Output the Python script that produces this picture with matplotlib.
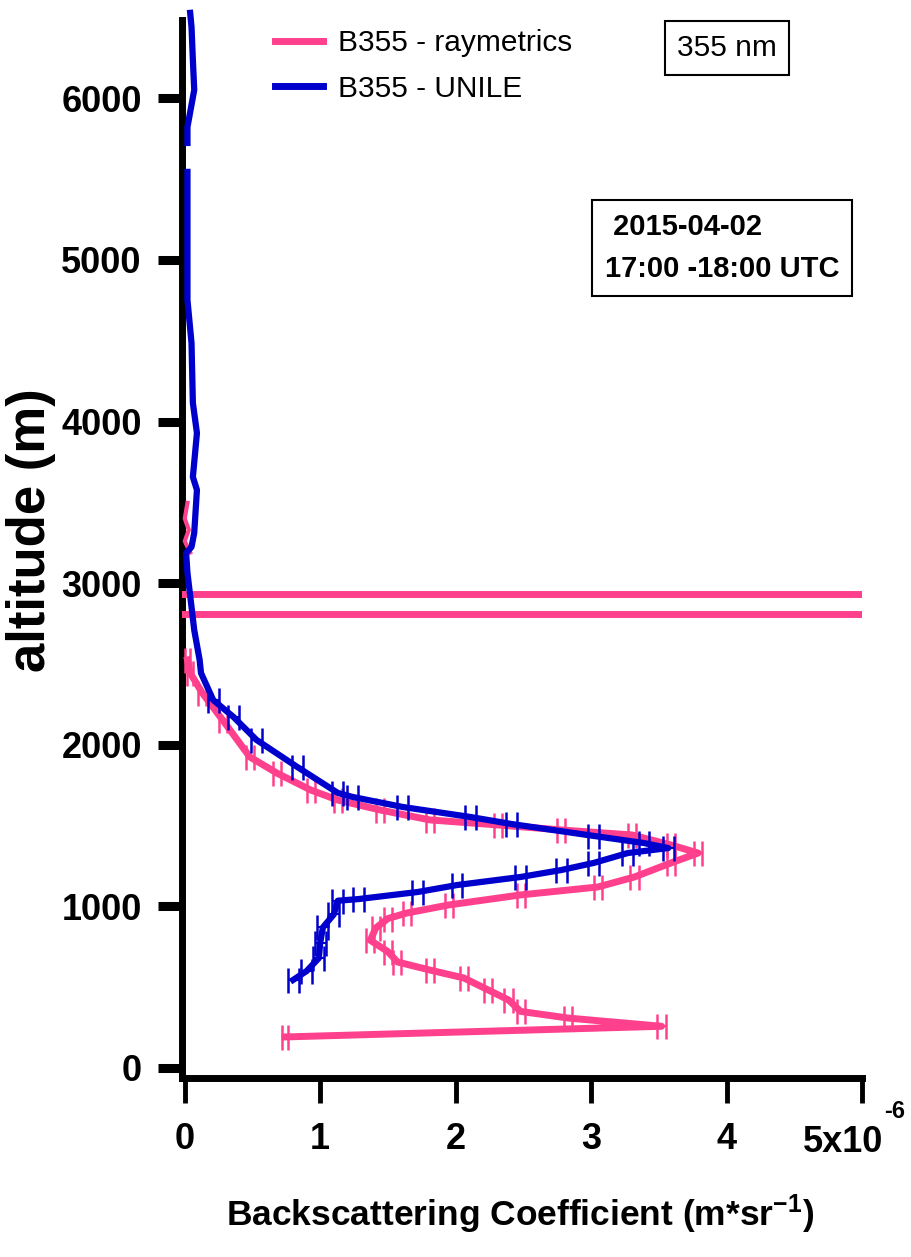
import numpy as np
import matplotlib
matplotlib.use("Agg")
import matplotlib.pyplot as plt
from matplotlib import font_manager

# narrow font if available, otherwise plain Liberation Sans
names = {f.name for f in font_manager.fontManager.ttflist}
FONT = "Liberation Sans Narrow" if "Liberation Sans Narrow" in names else "Liberation Sans"

plt.rcParams['font.family'] = [FONT, 'DejaVu Sans']
plt.rcParams['mathtext.fontset'] = 'custom'
plt.rcParams['mathtext.rm'] = FONT + ':bold'
plt.rcParams['mathtext.it'] = FONT + ':bold'
plt.rcParams['mathtext.bf'] = FONT + ':bold'

PINK = '#FF408C'
BLUE = '#0000CC'

# raymetrics profile (backscatter in 1e-6 m-1 sr-1, altitude in m)
ray_x = [0.74, 3.52, 2.83, 2.48, 2.39, 2.24, 2.06, 1.81, 1.57, 1.50, 1.37, 1.41,
         1.50, 1.64, 1.95, 2.48, 3.05, 3.32, 3.59, 3.79, 3.59, 3.30, 2.78, 2.31,
         1.81, 1.44, 1.13, 0.93, 0.68, 0.48, 0.28, 0.13, 0.04, 0.02]
ray_alt = [192, 258, 309, 350, 421, 483, 557, 606, 656, 720, 790, 866,
           925, 959, 1009, 1071, 1120, 1182, 1269, 1330, 1380, 1442, 1473, 1504,
           1535, 1597, 1658, 1720, 1825, 1925, 2153, 2320, 2444, 2525]
ray_err = [0.02, 0.03, 0.03, 0.03, 0.03, 0.03, 0.03, 0.03, 0.03, 0.03, 0.03, 0.03,
           0.03, 0.03, 0.03, 0.03, 0.03, 0.03, 0.03, 0.03, 0.03, 0.03, 0.03, 0.03,
           0.03, 0.03, 0.03, 0.03, 0.03, 0.03, 0.03, 0.03, 0.02, 0.02]

# raymetrics points above the gap
ray_top_x = [0.04, 0.00, 0.03, 0.00, 0.02]
ray_top_alt = [3190, 3260, 3330, 3400, 3497]

# raymetrics points with very large uncertainty
ray_bad_x = [0.0, 0.0]
ray_bad_alt = [2809, 2933]
ray_bad_err = [6.0, 6.0]

# UNILE profile
uni_x = [0.80, 0.90, 0.99, 1.00, 1.02, 1.10, 1.13, 1.28, 1.72, 2.01, 2.48, 2.78,
         3.02, 3.27, 3.57, 3.39, 3.02, 2.41, 2.11, 1.61, 1.24, 1.13, 0.83, 0.53,
         0.36, 0.21, 0.12, 0.11, 0.07, 0.05, 0.02, 0.01, 0.05, 0.07, 0.09, 0.06,
         0.09, 0.06, 0.05, 0.02, 0.02, 0.02, np.nan, 0.02, 0.02, 0.07, 0.06, 0.05, 0.04]
uni_alt = [545, 600, 680, 775, 870, 950, 1035, 1045, 1089, 1132, 1182, 1225,
           1269, 1330, 1361, 1392, 1436, 1510, 1553, 1615, 1677, 1702, 1863, 2030,
           2172, 2277, 2444, 2525, 2710, 2853, 3063, 3187, 3224, 3311, 3577, 3657,
           3929, 4115, 4486, 4752, 5043, 5545, 5630, 5724, 5823, 6052, 6238, 6442, 6529]
uni_err = 0.04

x_ticks = [0, 1, 2, 3, 4, 5]
x_ticklabels = ['0', '1', '2', '3', '4', '']
y_ticks = [0, 1000, 2000, 3000, 4000, 5000, 6000]

fig = plt.figure(figsize=(9.12, 12.57), dpi=100)
ax = fig.add_axes([0.1996, 0.1424, 0.7456, 0.8417])

ax.plot(ray_x, ray_alt, color=PINK, lw=5, label='B355 - raymetrics', zorder=3)
ax.plot(ray_top_x, ray_top_alt, color=PINK, lw=3, zorder=3)
ax.errorbar(ray_x, ray_alt, xerr=ray_err, fmt='none', ecolor=PINK,
            elinewidth=1.5, capsize=9, capthick=1.8, zorder=3)
ax.errorbar(ray_bad_x, ray_bad_alt, xerr=ray_bad_err, fmt='none', ecolor=PINK,
            elinewidth=5, capsize=0, zorder=3)

ax.plot(uni_x, uni_alt, color=BLUE, lw=4.5, label='B355 - UNILE', zorder=4,
        clip_on=False)
ux = np.array(uni_x)
ua = np.array(uni_alt)
low = ua < 2300
ax.errorbar(ux[low], ua[low], xerr=uni_err, fmt='none', ecolor=BLUE,
            elinewidth=1.5, capsize=9, capthick=1.8, zorder=4)

ax.set_xlim(-0.02, 5)
ax.set_ylim(-62, 6485)

ax.set_xticks(x_ticks)
ax.set_xticklabels(x_ticklabels)
ax.set_yticks(y_ticks)

for s in ['top', 'right']:
    ax.spines[s].set_visible(False)
for s in ['left', 'bottom']:
    ax.spines[s].set_linewidth(5)

ax.tick_params(axis='y', length=17, width=6.5, pad=12, labelsize=26)
ax.tick_params(axis='x', length=18, width=3.5, pad=14, labelsize=26)
for lab in ax.get_xticklabels() + ax.get_yticklabels():
    lab.set_fontweight('bold')

# last x label carries the 1e-6 multiplier, written Igor-style
fig.text(843 / 912, 1 - 1143 / 1257, '5x10', fontsize=26, fontweight='bold',
         ha='center', va='center')
fig.text(895 / 912, 1 - 1112 / 1257, '-6', fontsize=17, fontweight='bold',
         ha='center', va='center')

ax.set_xlabel(r'Backscattering Coefficient (m*sr$^{-1}$)', fontsize=25.5,
              fontweight='bold')
ax.xaxis.set_label_coords(0.497, -0.108)
ax.xaxis.label.set_va('top')
ax.set_ylabel('altitude (m)', fontsize=38, fontweight='bold')
ax.yaxis.set_label_coords(-0.222, 0.518)
ax.yaxis.label.set_va('center')

leg = ax.legend(loc='upper left', bbox_to_anchor=(275 / 912, 1 - 29 / 1257),
                bbox_transform=fig.transFigure, frameon=False, fontsize=21.5,
                handlelength=1.6, handletextpad=0.5, labelspacing=0.6,
                borderpad=0, borderaxespad=0)
for ln in leg.get_lines():
    ln.set_linewidth(5)

fig.text(727 / 912, 1 - 48 / 1257, '355 nm', fontsize=21.5, ha='center', va='center',
         bbox=dict(boxstyle='square,pad=0.42', fc='white', ec='black', lw=1.5))
fig.text(722 / 912, 1 - 248 / 1257, ' 2015-04-02\n17:00 -18:00 UTC', fontsize=21,
         fontweight='bold', ha='center', va='center', multialignment='left',
         linespacing=1.6,
         bbox=dict(boxstyle='square,pad=0.45', fc='white', ec='black', lw=1.5))

fig.savefig('out.png', dpi=100)
